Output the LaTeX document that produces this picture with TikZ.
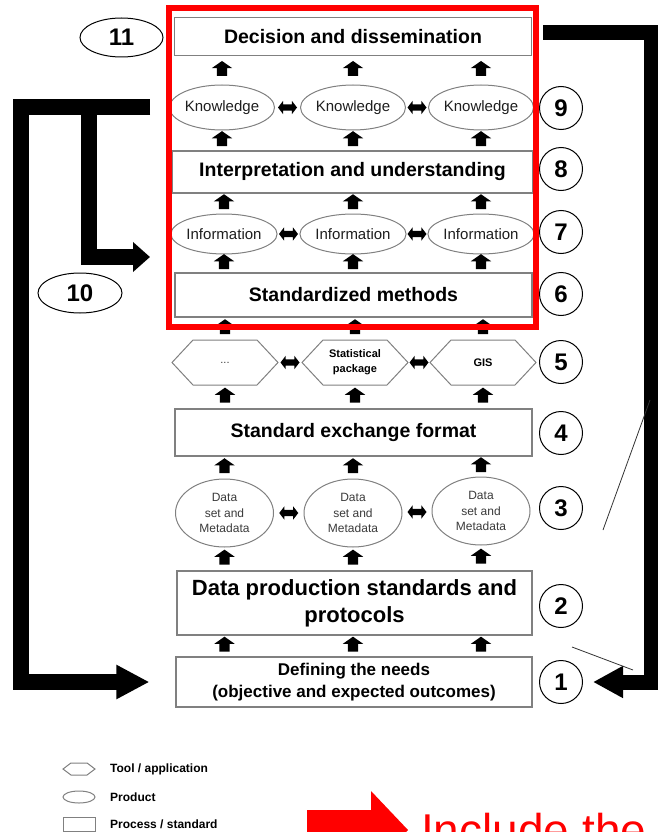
\documentclass[tikz,border=0pt]{standalone}
\usepackage{fontspec}
\setmainfont{Liberation Sans}
\usetikzlibrary{shapes.geometric,shapes.arrows,shapes.symbols,arrows.meta}
\definecolor{framered}{HTML}{FF0000}
\definecolor{edgegray}{HTML}{808080}
\definecolor{txtgray}{HTML}{3A3A3A}
\definecolor{txtdark}{HTML}{1E1E1E}

\begin{document}
\begin{tikzpicture}[x=1pt,y=-1pt,
  procbox/.style={draw=edgegray,line width=1.2pt,minimum width=357pt,inner sep=0pt,align=center,font=\fontsize{19.5}{22}\selectfont\bfseries},
  prod/.style={ellipse,draw=edgegray,line width=1pt,minimum width=98pt,inner sep=0pt,align=center,text=txtdark,font=\fontsize{15}{17}\selectfont},
  tool/.style={signal,signal to=east and west,signal pointer angle=94,draw=edgegray,line width=1pt,minimum width=106pt,minimum height=45pt,inner sep=0pt,align=center,font=\fontsize{11}{15}\selectfont\bfseries},
  numcirc/.style={circle,draw,line width=1pt,minimum size=43pt,inner sep=0pt,font=\fontsize{24}{26}\selectfont\bfseries},
  numell/.style={ellipse,draw,line width=1pt,minimum width=83pt,minimum height=39pt,inner sep=0pt,font=\fontsize{24}{26}\selectfont\bfseries},
  uparr/.style={single arrow,fill=black,rotate=90,minimum height=15pt,minimum width=20pt,single arrow head extend=5pt,single arrow tip angle=110,inner xsep=0pt,inner ysep=5pt},
  dblarr/.style={double arrow,fill=black,minimum height=19pt,minimum width=13pt,double arrow head extend=3.5pt,double arrow tip angle=105,inner xsep=0pt,inner ysep=3pt},
  bigarr/.style={line width=16pt,-{Triangle[width=32pt,length=33pt]}},
  legtxt/.style={anchor=west,inner sep=0pt,font=\fontsize{12}{14}\selectfont\bfseries}]
  \clip (0,0) rectangle (658,832);

  \node[procbox,minimum height=38pt] (dec) at (353,36.5) {Decision and dissemination};
  \node[prod,minimum height=45pt] (k1) at (222,107.5) {Knowledge};
  \node[prod,minimum height=45pt] (k2) at (353,107.5) {Knowledge};
  \node[prod,minimum height=45pt] (k3) at (481,107.5) {Knowledge};
  \node[procbox,minimum height=42pt,minimum width=361pt] (int) at (352.5,172) {Interpretation and understanding};
  \node[prod,minimum height=40pt] (i1) at (224,234) {Information};
  \node[prod,minimum height=40pt] (i2) at (353,234) {Information};
  \node[prod,minimum height=40pt] (i3) at (481,234) {Information};
  \node[procbox,minimum height=44pt] (std) at (353.5,295) {Standardized methods};
  \node[tool] (t1) at (225,362.5) {\mdseries\textcolor{txtgray}{...}};
  \node[tool] (t2) at (355,362.5) {Statistical\\package};
  \node[tool] (t3) at (483,362.5) {GIS};
  \node[procbox,minimum height=47pt] (ex) at (353.5,432.5) {Standard exchange format};
  \node[prod,minimum height=68pt,text=txtgray,font=\fontsize{12}{15.5}\selectfont] (d1) at (224.5,513) {Data\\set and\\Metadata};
  \node[prod,minimum height=68pt,text=txtgray,font=\fontsize{12}{15.5}\selectfont] (d2) at (353,513) {Data\\set and\\Metadata};
  \node[prod,minimum height=68pt,text=txtgray,font=\fontsize{12}{15.5}\selectfont] (d3) at (481,511) {Data\\set and\\Metadata};
  \node[procbox,minimum height=64pt,minimum width=355pt,font=\fontsize{22}{27}\selectfont\bfseries] (dp) at (354.5,603) {Data production standards and\\protocols};
  \node[procbox,minimum height=50pt,minimum width=356pt,font=\fontsize{17}{22.5}\selectfont\bfseries] (def) at (354,682) {Defining the needs\\(objective and expected outcomes)};

  \node[numcirc] (n9) at (561,108) {9};
  \node[numcirc] (n8) at (561,169) {8};
  \node[numcirc] (n7) at (561,232) {7};
  \node[numcirc] (n6) at (561,294) {6};
  \node[numcirc] (n5) at (561,362) {5};
  \node[numcirc] (n4) at (561,433) {4};
  \node[numcirc] (n3) at (561,508) {3};
  \node[numcirc] (n2) at (561,606) {2};
  \node[numcirc] (n1) at (561,682) {1};
  \node[numell] (n11) at (121.5,37.5) {11};
  \node[numell,minimum width=84pt,minimum height=40pt] (n10) at (80,293) {10};

  \foreach \c in {1,2,3} {
    \path (def.north -| d\c) -- node[uparr] (ua\c) {} (dp.south -| d\c);
    \path (dp.north -| d\c) -- node[uparr] (ub\c) {} (d\c.south);
    \path (d\c.north) -- node[uparr] (uc\c) {} (ex.south -| d\c);
    \path (ex.north -| t\c) -- node[uparr] (ud\c) {} (t\c.south);
    \path (t\c.north) -- node[uparr] (ue\c) {} (std.south -| t\c);
    \path (std.north -| i\c) -- node[uparr] (uf\c) {} (i\c.south);
    \path (i\c.north) -- node[uparr] (ug\c) {} (int.south -| i\c);
    \path (int.north -| k\c) -- node[uparr] (uh\c) {} (k\c.south);
    \path (k\c.north) -- node[uparr] (ui\c) {} (dec.south -| k\c);
  }
  \foreach \a/\b in {1/2,2/3} {
    \path (k\a.east) -- node[dblarr] (kk\a) {} (k\b.west);
    \path (i\a.east) -- node[dblarr] (ii\a) {} (i\b.west);
    \path (t\a.east) -- node[dblarr] (tt\a) {} (t\b.west);
    \path (d\a.east) -- node[dblarr] (dd\a) {} (d\b.west);
  }

  \coordinate (lft) at (150,107);
  \coordinate (brk) at (89,107);
  \coordinate (lin) at (150,257);
  \coordinate (rgt) at (543,32.5);
  \draw[bigarr,shorten >=26pt] (lft) -- (21,107) |- (def.west);
  \draw[line width=16pt,-{Triangle[width=29pt,length=17pt]}] (brk) |- (lin);
  \draw[line width=15pt,-{Triangle[width=30pt,length=30pt]},shorten >=10pt] (rgt) -- (651,32.5) |- (n1.east);

  \draw[line width=0.8pt,black!80] (603,530) -- (650,400);
  \draw[line width=0.8pt,black!80] (572,647) -- (633,670);

  \draw[framered,line width=6pt] (168.5,8.5) rectangle (535.5,326.5);

  \node[tool,minimum width=32pt,minimum height=12pt,signal pointer angle=74] (lg1) at (79,769) {};
  \node[ellipse,draw=edgegray,line width=1pt,minimum width=32pt,minimum height=12pt,inner sep=0pt] (lg2) at (79,797) {};
  \node[draw=edgegray,line width=1pt,minimum width=32pt,minimum height=14pt,inner sep=0pt] (lg3) at (79,824) {};
  \node[legtxt] (lt1) at (110,769) {Tool / application};
  \node[legtxt] (lt2) at (110,797) {Product};
  \node[legtxt] (lt3) at (110,824) {Process / standard};

  \fill[framered] (307,810) -- (371,810) -- (371,791) -- (408,830) -- (371,869) -- (371,850) -- (307,850) -- cycle;
  \node[anchor=base west,inner sep=0pt,text=framered,font=\fontsize{46}{50}\selectfont] (inc) at (421,846) {Include the};
\end{tikzpicture}
\end{document}
